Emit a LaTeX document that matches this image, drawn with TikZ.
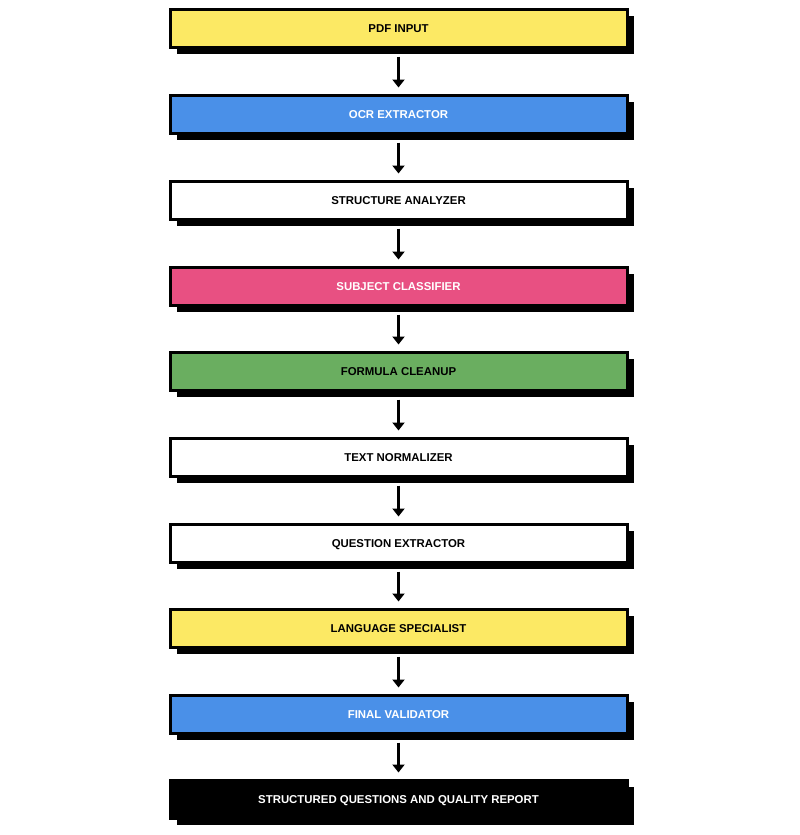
\documentclass[tikz,border=0pt]{standalone}
\usepackage{fontspec}
\setmainfont{Liberation Sans}
\usetikzlibrary{arrows.meta}
\definecolor{cyel}{RGB}{252,233,100}
\definecolor{cblu}{RGB}{74,144,232}
\definecolor{cpnk}{RGB}{232,80,130}
\definecolor{cgrn}{RGB}{106,174,96}
\tikzset{
  stage/.style={draw=black, line width=3pt, minimum width=457pt, minimum height=38pt,
    inner sep=0pt, text height=8.2pt, text depth=0pt,
    font=\bfseries\fontsize{11.4}{13}\selectfont},
  flow/.style={line width=3pt, -{Triangle[length=8pt,width=12pt]}, shorten >=6pt, shorten <=1pt},
}
\newcommand{\stagebox}[5]{% name, y-center, fill, textcolor, text
  \fill[black] (170+7,#2-19+7) rectangle (627+7,#2+19+7);
  \node[stage, fill=#3, text=#4] (#1) at (398.5,#2) {#5};
}
\begin{document}
\begin{tikzpicture}[x=1pt,y=-1pt]
\useasboundingbox (0,0) rectangle (800,835);
\stagebox{n1}{28}{cyel}{black}{PDF INPUT}
\stagebox{n2}{114}{cblu}{white}{OCR EXTRACTOR}
\stagebox{n3}{200}{white}{black}{STRUCTURE ANALYZER}
\stagebox{n4}{286}{cpnk}{white}{SUBJECT CLASSIFIER}
\stagebox{n5}{371}{cgrn}{black}{FORMULA CLEANUP}
\stagebox{n6}{457}{white}{black}{TEXT NORMALIZER}
\stagebox{n7}{543}{white}{black}{QUESTION EXTRACTOR}
\stagebox{n8}{628}{cyel}{black}{LANGUAGE SPECIALIST}
\stagebox{n9}{714}{cblu}{white}{FINAL VALIDATOR}
\stagebox{n10}{799}{black}{white}{STRUCTURED QUESTIONS AND QUALITY REPORT}
\foreach \a/\b in {n1/n2,n2/n3,n3/n4,n4/n5,n5/n6,n6/n7,n7/n8,n8/n9,n9/n10}{
  \draw[flow] ([yshift=-7pt]\a.south) -- (\b.north);
}
\end{tikzpicture}
\end{document}
